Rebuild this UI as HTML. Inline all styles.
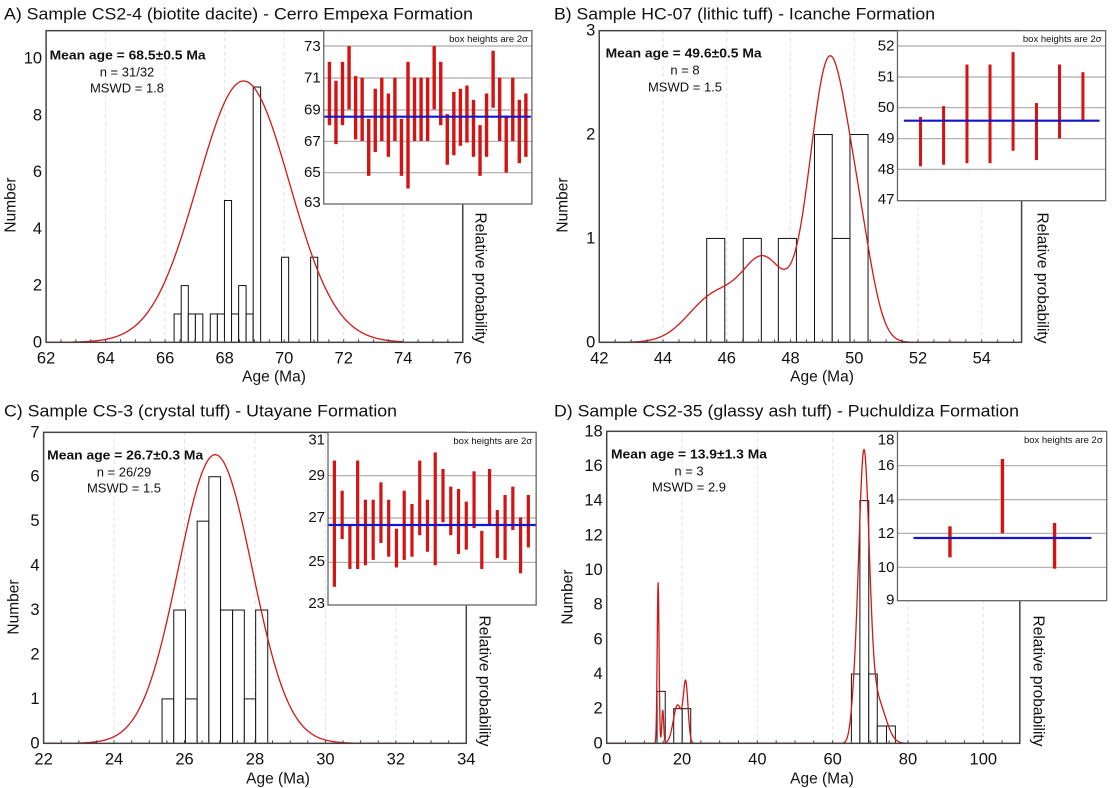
<!DOCTYPE html>
<html><head><meta charset="utf-8">
<style>
html,body{margin:0;padding:0;background:#fff;}
svg{display:block;}
text{font-family:"Liberation Sans",Arial,sans-serif;fill:#111;}
.t{font-size:17px;}
.k{font-size:16.5px;}
.ki{font-size:15px;}
.ax{font-size:15.5px;}
.st{font-size:13px;}
.bx{font-size:9.5px;}
</style></head>
<body>
<svg id="s" width="1112" height="788" viewBox="0 0 1112 788" xmlns="http://www.w3.org/2000/svg">
<g id="geo"></g>
<g id="txt" text-anchor="middle" dominant-baseline="central">
<text class="t" x="4" y="14" text-anchor="start" textLength="469" lengthAdjust="spacingAndGlyphs">A) Sample CS2-4 (biotite dacite) - Cerro Empexa Formation</text>
<text class="t" x="554" y="14" text-anchor="start" textLength="381" lengthAdjust="spacingAndGlyphs">B) Sample HC-07 (lithic tuff) - Icanche Formation</text>
<text class="t" x="4" y="411" text-anchor="start" textLength="393" lengthAdjust="spacingAndGlyphs">C) Sample CS-3 (crystal tuff) - Utayane Formation</text>
<text class="t" x="554" y="411" text-anchor="start" textLength="465" lengthAdjust="spacingAndGlyphs">D) Sample CS2-35 (glassy ash tuff) - Puchuldiza Formation</text>

<text class="ax" transform="translate(11,205) rotate(-90)">Number</text>
<text class="ax" x="274" y="377">Age (Ma)</text>
<text class="ax" transform="translate(480,278) rotate(90)">Relative probability</text>
<text class="ax" transform="translate(563,205) rotate(-90)">Number</text>
<text class="ax" x="822" y="377">Age (Ma)</text>
<text class="ax" transform="translate(1042,278) rotate(90)">Relative probability</text>
<text class="ax" transform="translate(14,607) rotate(-90)">Number</text>
<text class="ax" x="278" y="779">Age (Ma)</text>
<text class="ax" transform="translate(484,681) rotate(90)">Relative probability</text>
<text class="ax" transform="translate(568,597) rotate(-90)">Number</text>
<text class="ax" x="822" y="779">Age (Ma)</text>
<text class="ax" transform="translate(1038,681) rotate(90)">Relative probability</text>

<text class="st" x="49.6" y="55" text-anchor="start" font-weight="bold" textLength="156" lengthAdjust="spacingAndGlyphs">Mean age = 68.5±0.5 Ma</text>
<text class="st" x="127" y="72">n = 31/32</text>
<text class="st" x="127" y="88">MSWD = 1.8</text>
<text class="st" x="605.6" y="53" text-anchor="start" font-weight="bold" textLength="156" lengthAdjust="spacingAndGlyphs">Mean age = 49.6±0.5 Ma</text>
<text class="st" x="685" y="70">n = 8</text>
<text class="st" x="685" y="87">MSWD = 1.5</text>
<text class="st" x="47.2" y="455" text-anchor="start" font-weight="bold" textLength="156" lengthAdjust="spacingAndGlyphs">Mean age = 26.7±0.3 Ma</text>
<text class="st" x="124" y="472">n = 26/29</text>
<text class="st" x="124" y="488">MSWD = 1.5</text>
<text class="st" x="611" y="454" text-anchor="start" font-weight="bold" textLength="156" lengthAdjust="spacingAndGlyphs">Mean age = 13.9±1.3 Ma</text>
<text class="st" x="689" y="471">n = 3</text>
<text class="st" x="689" y="487">MSWD = 2.9</text>
</g>
<g id="txt2" text-anchor="middle" dominant-baseline="central"></g>
</svg>
<script>
var NS="http://www.w3.org/2000/svg";
var geo=document.getElementById("geo");
var top2=document.getElementById("txt2");
function el(tag,attrs,parent){var e=document.createElementNS(NS,tag);for(var k in attrs)e.setAttribute(k,attrs[k]);(parent||geo).appendChild(e);return e;}
var KX=1/2.8201,KY=1/3;
function P(ox,oy){return {X:function(x){return ox+x*KX;},Y:function(y){return oy+y*KY;}};}

function panel(o){
  var p=P(o.ox,o.oy);
  var L=p.X(o.fx0),R=p.X(o.fx1),T=p.Y(o.fy0),B=p.Y(o.fy1);
  o.xt.forEach(function(t){var x=L+(t-o.xmin)/(o.xmax-o.xmin)*(R-L);
    if(t>o.xmin&&t<o.xmax) el("line",{x1:x,y1:T,x2:x,y2:B,stroke:"#e2e2e2","stroke-width":1,"stroke-dasharray":"4,3"});
  });
  var bz=o.base, u=o.unit;
  o.hist.forEach(function(h){
    var x0=p.X(h[0]),x1=p.X(h[1]),y=p.Y(bz-h[2]*u);
    el("rect",{x:x0,y:y,width:x1-x0,height:p.Y(bz)-y,fill:"#fff",stroke:"#111","stroke-width":1});
  });
  var d="";
  for(var x=o.c0;x<=o.c1;x+=o.cs){
    var v=0;o.g.forEach(function(g){var z=(x-g[0])/g[1];v+=g[2]*Math.exp(-z*z/2);});
    d+=(d?"L":"M")+p.X(x).toFixed(2)+","+p.Y(bz-v).toFixed(2);
  }
  el("path",{d:d,fill:"none",stroke:"#d01818","stroke-width":1.3});
  el("rect",{x:L,y:T,width:R-L,height:B-T,fill:"none",stroke:"#444","stroke-width":1.5});
  var nx=(o.xmax-o.xmin)/o.xminor;
  for(var i=0;i<=nx;i++){var x=L+i/nx*(R-L);el("line",{x1:x,y1:B,x2:x,y2:B-3,stroke:"#444","stroke-width":1});}
  o.xt.forEach(function(t){var x=L+(t-o.xmin)/(o.xmax-o.xmin)*(R-L);
    var e=el("text",{x:x,y:B+16,"class":"k"},top2);e.textContent=t;});
  o.yt.forEach(function(t){var y=p.Y(bz-t*u);
    var e=el("text",{x:L-4,y:y,"class":"k","text-anchor":"end"},top2);e.textContent=t;});
  var I=o.ins;
  var iL=p.X(I.x0),iR=p.X(I.x1),iT=p.Y(I.y0),iB=p.Y(I.y1);
  el("rect",{x:iL,y:iT,width:iR-iL,height:iB-iT,fill:"#fff",stroke:"none"});
  I.grid.forEach(function(gy){var y=p.Y(gy);el("line",{x1:iL,y1:y,x2:iR,y2:y,stroke:"#aaa","stroke-width":1.2});});
  I.bars.forEach(function(b){
    var x=p.X(b[0]);var y0=p.Y(b[1]),y1=p.Y(b[2]);
    el("rect",{x:x-I.bw/2,y:y0,width:I.bw,height:y1-y0,fill:"#d41414"});
  });
  el("line",{x1:p.X(I.bx0),y1:p.Y(I.by),x2:p.X(I.bx1),y2:p.Y(I.by),stroke:"#1414c8","stroke-width":2.2});
  el("rect",{x:iL,y:iT,width:iR-iL,height:iB-iT,fill:"none",stroke:"#666","stroke-width":1.3});
  I.labels.forEach(function(l){var e=el("text",{x:iL-3,y:p.Y(l[1]),"class":"ki","text-anchor":"end"},top2);e.textContent=l[0];});
  var e=el("text",{x:iR-4,y:iT+9,"class":"bx","text-anchor":"end"},top2);e.textContent="box heights are 2σ";
}

(function(){
  var vals=[[72,68],[70.8,66.8],[72,68],[73,69],[71.1,67.1],[71,67],[68.4,64.8],[70.3,66.3],[71,67],[70,66],[71,67],[68.4,64.8],[72,64],[71,67],[71,67],[71,67],[73,69],[72,68],[68.7,65.5],[70.1,66.1],[70.3,66.7],[70.5,66.9],[69.6,66],[68,64.8],[70,66],[72.7,69.1],[71,67],[68.6,65],[71,67],[69.6,65.6],[70,66]];
  var bars=vals.map(function(v,i){var x=929+i*(1483-929)/30;return [x,138+(73-v[0])*47.5,138+(73-v[1])*47.5];});
  panel({ox:0,oy:0,fx0:130,fx1:1305,fy0:92,fy1:1027,xmin:62,xmax:76,xminor:0.5,
    xt:[62,64,66,68,70,72,74,76],yt:[0,2,4,6,8,10],base:1027,unit:85.1,
    hist:[[491,511,1],[511,531,2],[531,551,1],[551,572,1],[593,613,1],[613,633,1],[633,653,5],[653,673,1],[673,694,2],[694,714,1],[714,735,9],[794,814,3],[876,896,3]],
    c0:130,c1:1137,cs:3,g:[[687,130,784]],
    ins:{x0:913,x1:1500,y0:92,y1:612,grid:[138,234,330,424,518],bars:bars,bw:3.4,by:350,bx0:915,bx1:1497,
      labels:[[73,140],[71,234],[69,330],[67,424],[65,518],[63,608]]}
  });
})();
(function(){
  var xs=[1028,1093,1159,1224,1289,1355,1420,1486];
  var vals=[[49.7,48.1],[50.05,48.15],[51.4,48.2],[51.4,48.2],[51.8,48.6],[50.15,48.3],[51.4,49.0],[51.15,49.6]];
  var bars=vals.map(function(v,i){return [xs[i],138+(52-v[0])*92.5,138+(52-v[1])*92.5];});
  panel({ox:556,oy:0,fx0:122,fx1:1313,fy0:92,fy1:1027,xmin:42,xmax:55.25,xminor:0.5,
    xt:[42,44,46,48,50,52,54],yt:[0,1,2,3],base:1027,unit:311.7,
    hist:[[425,476,1],[528,579,1],[627,678,1],[729,779,2],[779,829,1],[829,880,2]],
    c0:122,c1:1130,cs:2,g:[[770,55,840],[590,60,230],[450,75,140],[860,40,200]],
    ins:{x0:963,x1:1550,y0:92,y1:602,grid:[138,231,323,416,508],bars:bars,bw:3,by:362,bx0:981,bx1:1533,
      labels:[[52,138],[51,231],[50,323],[49,416],[48,508],[47,598]]}
  });
})();
(function(){
  var vals=[[29.67,23.8],[28.27,26.02],[26.64,24.63],[29.67,24.63],[27.85,24.8],[27.85,25.05],[28.66,25.84],[27.85,25.2],[26.5,24.7],[28.27,25.05],[27.65,25.2],[29.67,26.2],[27.85,25.43],[30.05,24.8],[29.28,26.8],[28.46,26.2],[28.35,25.33],[27.76,25.53],[29.17,26.53],[26.4,24.63],[29.28,26.72],[27.37,25.14],[28.07,25.05],[28.46,26.44],[27.03,24.43],[28.07,25.63]];
  var bars=vals.map(function(v,i){var x=943+i*(1490-943)/25;return [x,372+(27-v[0])*64.5,372+(27-v[1])*64.5];});
  panel({ox:0,oy:394,fx0:123,fx1:1315,fy0:115,fy1:1048,xmin:22,xmax:34,xminor:0.5,
    xt:[22,24,26,28,30,32,34],yt:[0,1,2,3,4,5,6,7],base:1048,unit:133.3,
    hist:[[457,490,1],[490,523,3],[523,556,1],[556,589,5],[589,622,6],[622,656,3],[656,689,3],[689,721,1],[721,755,3]],
    c0:123,c1:1115,cs:3,g:[[607,104,866]],
    ins:{x0:925,x1:1512,y0:115,y1:633,grid:[245,372,505],bars:bars,bw:3.2,by:393,bx0:925,bx1:1512,
      labels:[[31,138],[29,245],[27,370],[25,503],[23,628]]}
  });
})();
(function(){
  var bars=[[1111,397,490],[1259,195,418],[1406,387,524]];
  panel({ox:556,oy:394,fx0:143,fx1:1308,fy0:112,fy1:1048,xmin:0,xmax:109.7,xminor:5,
    xt:[0,20,40,60,80,100],yt:[0,2,4,6,8,10,12,14,16,18],base:1048,unit:52,
    hist:[[285,308,3],[332,356,2],[356,380,2],[833,857,4],[857,882,14],[882,906,4],[906,932,1],[932,957,1]],
    c0:143,c1:1095,cs:1,g:[[288,2.6,483],[301,2.6,100],[343,12,115],[366,6.5,170],[868,15,840],[905,24,130],[840,10,60]],
    ins:{x0:963,x1:1553,y0:112,y1:620,grid:[215,317,418,520],bars:bars,bw:3.4,by:432,bx0:1008,bx1:1510,
      labels:[[18,138],[16,215],[14,317],[12,418],[10,520],[9,618]]}
  });
})();
</script>
</body></html>
